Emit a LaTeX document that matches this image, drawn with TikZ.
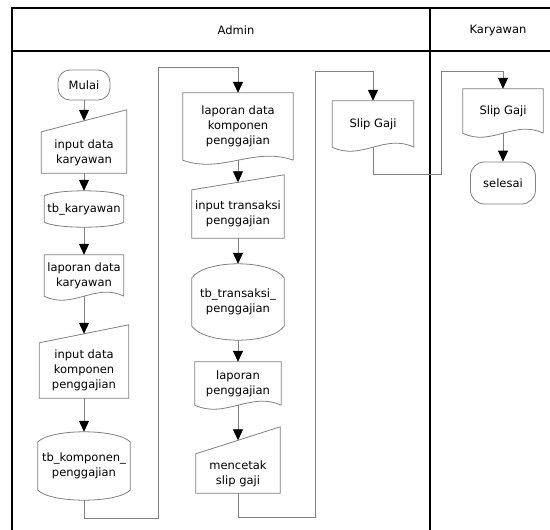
\documentclass[tikz,border=0pt]{standalone}
\usepackage{fontspec}
\setmainfont{DejaVu Sans}
\usepackage{xcolor}
\usepackage{tikz}
\usetikzlibrary{arrows.meta,calc}

\definecolor{linegray}{RGB}{128,128,128}

% outline of a document (wavy bottom)
\newcommand{\docshape}[1]{%
  \draw[shapeline] (#1.south east) -- (#1.north east) -- (#1.north west) -- (#1.south west)
    .. controls ($(#1.south west)!.35!(#1.south east)+(0,14)$) and ($(#1.south west)!.65!(#1.south east)+(0,-14)$) .. (#1.south east);}
% outline of a manual input (slanted top), #2 = rise of the top
\newcommand{\inshape}[2]{%
  \draw[shapeline] (#1.north west) -- ($(#1.north east)+(0,-#2)$) -- (#1.south east) -- (#1.south west) -- cycle;}
% outline of a stored data box, #2 = top arc, #3 = bottom arc
\newcommand{\dbshape}[3]{%
  \draw[shapeline] (#1.north west)
    .. controls ($(#1.north west)!.15!(#1.north east)+(0,-#2*4/3)$) and ($(#1.north west)!.85!(#1.north east)+(0,-#2*4/3)$) .. (#1.north east)
    -- (#1.south east)
    .. controls ($(#1.south east)!.15!(#1.south west)+(0,#3*4/3)$) and ($(#1.south east)!.85!(#1.south west)+(0,#3*4/3)$) .. (#1.south west)
    -- cycle;}

\begin{document}
\begin{tikzpicture}[x=1pt,y=-1pt,
    every node/.style={font=\fontsize{11.5}{15}\selectfont, align=center, inner sep=0pt},
    term/.style={draw=linegray, line width=0.8pt, rounded corners=12pt},
    box/.style={},
    shapeline/.style={draw=linegray, line width=0.8pt},
    flow/.style={draw=linegray, line width=0.8pt, -{Triangle[width=10pt,length=11pt,color=black]}},
    lane/.style={draw=black, line width=1.6pt}]
    \useasboundingbox (0,0) rectangle (550,530);

    % swimlanes
    \draw[lane] (12,530) -- (12,8) -- (550,8);
    \draw[lane] (12,51) -- (550,51);
    \draw[lane] (430,8) -- (430,530);
    \node (admin) at (236,30) {Admin};
    \node (karyawan) at (498,31) {Karyawan};

    % Admin, first column
    \node[term, minimum width=52pt, minimum height=30pt] (mulai) at (84,85) {Mulai};
    \node[box, minimum width=85pt, minimum height=41pt] (inkar) at (84,152.5) {input data\\karyawan};
    \node[box, minimum width=79pt, minimum height=26pt] (tbkar) at (84,209) {tb\_karyawan};
    \node[box, minimum width=79pt, minimum height=41pt] (lapkar) at (84,275.5) {laporan data\\karyawan};
    \node[box, minimum width=89pt, minimum height=55pt] (inkomp) at (84,370.5) {input data\\komponen\\penggajian};
    \node[box, minimum width=92pt, minimum height=48pt] (tbkomp) at (84,466) {tb\_komponen\_\\penggajian};

    % Admin, second column
    \node[box, minimum width=110pt, minimum height=67pt] (lapkomp) at (238,126.5) {laporan data\\komponen\\penggajian};
    \node[box, minimum width=92pt, minimum height=48pt] (intrans) at (238,214) {input transaksi\\penggajian};
    \node[box, minimum width=92pt, minimum height=48pt] (tbtrans) at (238,302) {tb\_transaksi\_\\penggajian};
    \node[box, minimum width=86pt, minimum height=43pt] (lappeng) at (238,383.5) {laporan\\penggajian};
    \node[box, minimum width=84pt, minimum height=39pt] (cetak) at (238,473.5) {mencetak\\slip gaji};

    % Admin, third column
    \node[box, minimum width=81pt, minimum height=46pt] (slipadm) at (373,124) {Slip Gaji};

    % Karyawan
    \node[box, minimum width=80pt, minimum height=44pt] (slipkar) at (503,111) {Slip Gaji};
    \node[term, minimum width=65pt, minimum height=42pt, rounded corners=14pt] (selesai) at (503,183) {selesai};

    % outlines
    \foreach \n in {lapkar, lapkomp, lappeng, slipadm, slipkar} {\docshape{\n}}
    \inshape{inkar}{22}
    \inshape{inkomp}{18}
    \inshape{intrans}{15}
    \inshape{cetak}{27}
    \dbshape{tbkar}{5}{5}
    \dbshape{tbkomp}{10}{10}
    \dbshape{tbtrans}{14}{14}

    % bends of the long connectors
    \coordinate (bend1) at (158,518);
    \coordinate (bend2) at (315,517);
    \coordinate (bend3) at (441,174);

    % flow
    \draw[flow] (mulai) -- ([yshift=11pt]inkar.north);
    \draw[flow] (inkar) -- ([yshift=5pt]tbkar.north);
    \draw[flow] ([yshift=-5pt]tbkar.south) -- (lapkar);
    \draw[flow] (lapkar) -- ([yshift=9pt]inkomp.north);
    \draw[flow] (inkomp) -- ([yshift=10pt]tbkomp.north);
    \draw[flow] ([yshift=-10pt]tbkomp.south) |- (bend1) |- ([yshift=25pt]lapkomp.north) -- (lapkomp.north);
    \draw[flow] (lapkomp) -- ([yshift=7.5pt]intrans.north);
    \draw[flow] (intrans) -- ([yshift=14pt]tbtrans.north);
    \draw[flow] ([yshift=-14pt]tbtrans.south) -- (lappeng);
    \draw[flow] (lappeng) -- ([yshift=13.5pt]cetak.north);
    \draw[flow] (cetak.south) |- (bend2) |- ([yshift=29pt]slipadm.north) -- (slipadm.north);
    \draw[flow] (slipadm.south) |- (bend3) |- ([yshift=17pt]slipkar.north) -- (slipkar.north);
    \draw[flow] (slipkar) -- (selesai);
\end{tikzpicture}
\end{document}
